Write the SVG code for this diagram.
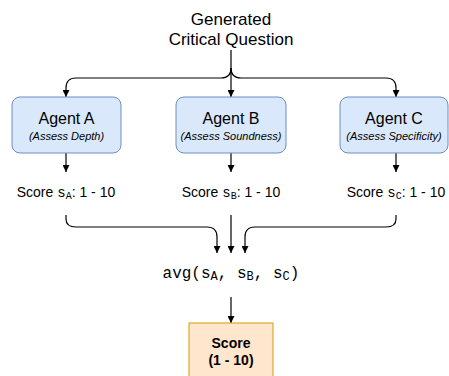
<svg xmlns="http://www.w3.org/2000/svg" width="449" height="376" viewBox="0 0 449 376">
<style>
.t{font-family:"Liberation Sans",Arial,sans-serif;fill:#000}
.m{font-family:"Liberation Mono","Courier New",monospace;fill:#000}
.agent{fill:#dae8fc;stroke:#6c8ebf;stroke-width:1}
.out{fill:#ffe6cc;stroke:#d79b00;stroke-width:1}
.c{fill:none;stroke:#000;stroke-width:1.2}
</style>
<defs>
<marker id="ah" viewBox="0 0 10 10" refX="10" refY="5" markerWidth="7" markerHeight="7" markerUnits="userSpaceOnUse" orient="auto">
<path d="M0,0 L10,5 L0,10 Z" fill="#000"/>
</marker>
</defs>
<g id="title">
<text class="t" x="231" y="25" font-size="17" text-anchor="middle">Generated</text>
<text class="t" x="231" y="45" font-size="17" text-anchor="middle">Critical Question</text>
</g>
<g id="connectors">
<path class="c" d="M231,50 V68 Q231,78 221,78 H76 Q66,78 66,88 V97" marker-end="url(#ah)"/>
<path class="c" d="M231,68 V97" marker-end="url(#ah)"/>
<path class="c" d="M231,68 Q231,78 241,78 H386 Q396,78 396,88 V97" marker-end="url(#ah)"/>
<path class="c" d="M66,153 V172" marker-end="url(#ah)"/>
<path class="c" d="M231,153 V172" marker-end="url(#ah)"/>
<path class="c" d="M396,153 V172" marker-end="url(#ah)"/>
<path class="c" d="M66,215 V219 Q66,227 76,227 H207 Q217,227 217,237 V253" marker-end="url(#ah)"/>
<path class="c" d="M231,215 V253" marker-end="url(#ah)"/>
<path class="c" d="M396,215 V219 Q396,227 386,227 H255 Q245,227 245,237 V253" marker-end="url(#ah)"/>
<path class="c" d="M231,297 V323" marker-end="url(#ah)"/>
</g>
<g id="agentA">
<rect class="agent" x="12" y="97" width="109" height="56" rx="8"/>
<text class="t" x="66.5" y="124" font-size="16" text-anchor="middle">Agent A</text>
<text class="t" x="66.5" y="140" font-size="11" font-style="italic" text-anchor="middle">(Assess Depth)</text>
</g>
<g id="agentB">
<rect class="agent" x="176" y="97" width="110" height="56" rx="8"/>
<text class="t" x="231" y="124" font-size="16" text-anchor="middle">Agent B</text>
<text class="t" x="231" y="140" font-size="11" font-style="italic" text-anchor="middle">(Assess Soundness)</text>
</g>
<g id="agentC">
<rect class="agent" x="340" y="97" width="108" height="56" rx="8"/>
<text class="t" x="394" y="124" font-size="16" text-anchor="middle">Agent C</text>
<text class="t" x="394" y="140" font-size="11" font-style="italic" text-anchor="middle">(Assess Specificity)</text>
</g>
<g id="scoreA">
<text class="t" x="66" y="197" font-size="14" text-anchor="middle">Score <tspan font-family="Liberation Mono,monospace">s</tspan><tspan font-family="Liberation Mono,monospace" font-size="10" dy="2">A</tspan><tspan dy="-2">: 1 - 10</tspan></text>
</g>
<g id="scoreB">
<text class="t" x="231" y="197" font-size="14" text-anchor="middle">Score <tspan font-family="Liberation Mono,monospace">s</tspan><tspan font-family="Liberation Mono,monospace" font-size="10" dy="2">B</tspan><tspan dy="-2">: 1 - 10</tspan></text>
</g>
<g id="scoreC">
<text class="t" x="396" y="197" font-size="14" text-anchor="middle">Score <tspan font-family="Liberation Mono,monospace">s</tspan><tspan font-family="Liberation Mono,monospace" font-size="10" dy="2">C</tspan><tspan dy="-2">: 1 - 10</tspan></text>
</g>
<g id="avg">
<text class="m" x="231" y="278" font-size="16" text-anchor="middle">avg(s<tspan font-size="12" dy="2">A</tspan><tspan dy="-2">, s</tspan><tspan font-size="12" dy="2">B</tspan><tspan dy="-2">, s</tspan><tspan font-size="12" dy="2">C</tspan><tspan dy="-2">)</tspan></text>
</g>
<g id="finalScore">
<rect class="out" x="189" y="323" width="84" height="60"/>
<text class="t" x="231" y="348" font-size="14" font-weight="bold" text-anchor="middle">Score</text>
<text class="t" x="231" y="365" font-size="14" font-weight="bold" text-anchor="middle">(1 - 10)</text>
</g>
</svg>
